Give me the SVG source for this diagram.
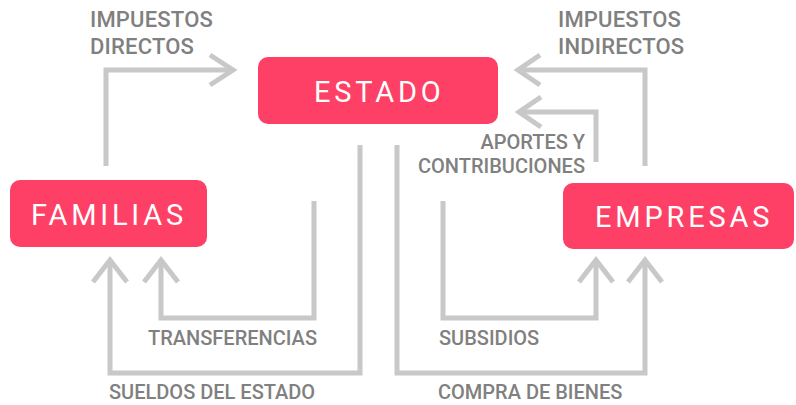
<svg xmlns="http://www.w3.org/2000/svg" width="796" height="405" viewBox="0 0 796 405">
<style>
.box{fill:#fe4066}
.bt{font-family:Roboto,"Liberation Sans",sans-serif;font-size:29px;fill:#ffffff;letter-spacing:3.8px}
.lb{font-family:Roboto,"Liberation Sans",sans-serif;font-size:20px;font-weight:500;fill:#808080}
.lt{font-size:22px;letter-spacing:0.2px}
.ln{fill:none;stroke:#c8c8c8;stroke-width:5}
</style>
<rect width="796" height="405" fill="#ffffff"/>
<g id="connectors">
  <g id="impuestos-directos">
    <polyline class="ln" points="106,166 106,70 233,70"/>
    <polyline class="ln" points="210,55 233,70 210,85"/>
    <text class="lb lt" x="90" y="27">IMPUESTOS</text>
    <text class="lb lt" x="90" y="54">DIRECTOS</text>
  </g>
  <g id="impuestos-indirectos">
    <polyline class="ln" points="645,166 645,70 518,70"/>
    <polyline class="ln" points="540,55 518,70 540,85"/>
    <text class="lb lt" x="558" y="27">IMPUESTOS</text>
    <text class="lb lt" x="558" y="54">INDIRECTOS</text>
  </g>
  <g id="aportes">
    <polyline class="ln" points="596,162 596,112 519,112"/>
    <polyline class="ln" points="541,97 519,112 541,127"/>
    <text class="lb" x="585" y="149" text-anchor="end">APORTES Y</text>
    <text class="lb" x="585" y="173" text-anchor="end">CONTRIBUCIONES</text>
  </g>
  <g id="transferencias">
    <polyline class="ln" points="314,201 314,318 161,318 161,260"/>
    <polyline class="ln" points="144,282 161,260 178,282"/>
    <text class="lb" x="148" y="345">TRANSFERENCIAS</text>
  </g>
  <g id="sueldos">
    <polyline class="ln" points="360,145 360,373 110,373 110,260"/>
    <polyline class="ln" points="93,282 110,260 127,282"/>
    <text class="lb" x="109" y="399">SUELDOS DEL ESTADO</text>
  </g>
  <g id="subsidios">
    <polyline class="ln" points="443,201 443,318 596,318 596,260"/>
    <polyline class="ln" points="579,282 596,260 613,282"/>
    <text class="lb" x="439" y="345">SUBSIDIOS</text>
  </g>
  <g id="compra">
    <polyline class="ln" points="397,145 397,373 645,373 645,260"/>
    <polyline class="ln" points="628,282 645,260 662,282"/>
    <text class="lb" x="438" y="399">COMPRA DE BIENES</text>
  </g>
</g>
<g id="estado">
  <rect class="box" x="258" y="57" width="240" height="67" rx="10"/>
  <text class="bt" x="314" y="102">ESTADO</text>
</g>
<g id="familias">
  <rect class="box" x="10" y="180" width="197" height="67" rx="10"/>
  <text class="bt" x="31" y="225">FAMILIAS</text>
</g>
<g id="empresas">
  <rect class="box" x="563" y="183" width="231" height="66" rx="10"/>
  <text class="bt" x="595" y="227">EMPRESAS</text>
</g>
</svg>
